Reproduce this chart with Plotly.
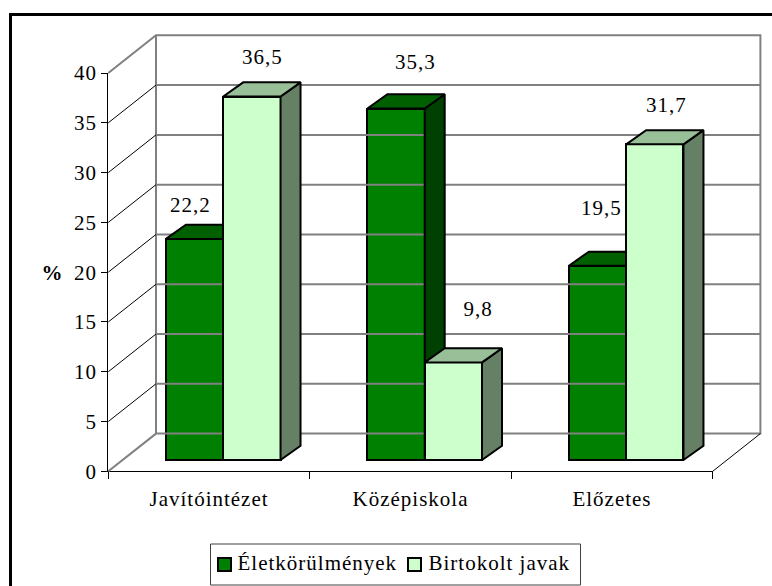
import plotly.graph_objects as go

# ---- data ----
categories = ["Javítóintézet", "Középiskola", "Előzetes"]
series_names = ["Életkörülmények", "Birtokolt javak"]
eletkorulmenyek = [22.2, 35.3, 19.5]
birtokolt_javak = [36.5, 9.8, 31.7]
y_ticks = [0, 5, 10, 15, 20, 25, 30, 35, 40]

# ---- geometry (pixels) ----
W, H = 772, 586
PX_X0, PX_X3 = 108.3, 712.7      # front plane x=0 .. x=3
PX_Y0, PX_Y40 = 471.3, 73.0      # front plane y=0 .. y=40
PER_CAT = (PX_X3 - PX_X0) / 3
PER_UNIT = (PX_Y0 - PX_Y40) / 40
WALL_DX = 47.7 / PER_CAT
WALL_DY = 37.7 / PER_UNIT
BAR_DX = 20.0 / PER_CAT
BAR_DY = 14.2 / PER_UNIT
BAR_W = 57.3 / PER_CAT
BAR_SHIFT_X = 14.2 / PER_CAT
BAR_BASE = (PX_Y0 - 460.0) / PER_UNIT
LABEL_SHIFT_A = [(-4, 34), (19, 47), (4, 58)]
LABEL_SHIFT_B = [(11, 40), (25, 53), (12, 39)]
FONT = "Liberation Serif"
FS = 21
GREEN = "#008000"
LIGHT = "#CCFFCC"

x_full = [-PX_X0 / PER_CAT, (W - PX_X0) / PER_CAT]
y_full = [(PX_Y0 - H) / PER_UNIT, PX_Y0 / PER_UNIT]

fig = go.Figure()

# front axes subplot
fig.add_trace(go.Scatter(x=[0.5, 1.5, 2.5], y=[None] * 3, mode="lines",
                         showlegend=False, hoverinfo="skip"))

# walls
GRAY = "#808080"
gx, gy = [], []
for t in y_ticks[1:-1]:
    gx += [WALL_DX, 3 + WALL_DX, None]
    gy += [t + WALL_DY, t + WALL_DY, None]
fig.add_trace(go.Scatter(
    x=gx, y=gy, mode="lines", line=dict(color=GRAY, width=2),
    showlegend=False, hoverinfo="skip", xaxis="x2", yaxis="y2"))
top, bot = y_ticks[-1], y_ticks[0]
fig.add_trace(go.Scatter(
    x=[0, WALL_DX, 3 + WALL_DX, 3 + WALL_DX, WALL_DX, WALL_DX, None, WALL_DX, 0],
    y=[top, top + WALL_DY, top + WALL_DY, bot + WALL_DY, bot + WALL_DY, top + WALL_DY, None, bot + WALL_DY, bot],
    mode="lines", line=dict(color=GRAY, width=2),
    showlegend=False, hoverinfo="skip", xaxis="x2", yaxis="y2"))
dx, dy = [], []
for t in y_ticks[1:-1]:
    dx += [0, WALL_DX, None]
    dy += [t, t + WALL_DY, None]
dx += [3, 3 + WALL_DX, None]
dy += [bot, bot + WALL_DY, None]
fig.add_trace(go.Scatter(
    x=dx, y=dy, mode="lines", line=dict(color="#000000", width=1),
    showlegend=False, hoverinfo="skip", xaxis="x2", yaxis="y2"))


def add_series(name, values, offset, front, topc, side, xa, ya, shifts):
    centers = [i + 0.5 + BAR_SHIFT_X + offset * BAR_W for i in range(len(values))]
    fig.add_trace(go.Bar(
        name=name, x=centers, y=values, base=[BAR_BASE] * len(values), width=BAR_W,
        marker=dict(color=front, line=dict(color="#000000", width=2)),
        xaxis=xa, yaxis=ya, hoverinfo="skip", showlegend=False))
    sx, sy, tx, ty = [], [], [], []
    for c, v in zip(centers, values):
        x0, x1 = c - BAR_W / 2, c + BAR_W / 2
        yt = v + BAR_BASE
        sx += [x1, x1, x1 + BAR_DX, x1 + BAR_DX, x1, None]
        sy += [BAR_BASE, yt, yt + BAR_DY, BAR_BASE + BAR_DY, BAR_BASE, None]
        tx += [x0, x1, x1 + BAR_DX, x0 + BAR_DX, x0, None]
        ty += [yt, yt, yt + BAR_DY, yt + BAR_DY, yt, None]
    for px, py, col in ((sx, sy, side), (tx, ty, topc)):
        fig.add_trace(go.Scatter(
            x=px, y=py, mode="lines", fill="toself", fillcolor=col,
            line=dict(color="#000000", width=2), showlegend=False,
            hoverinfo="skip", xaxis=xa, yaxis=ya))
    for c, v, (sxp, syp) in zip(centers, values, shifts):
        fig.add_annotation(
            x=c, y=v + BAR_BASE, xref=xa, yref=ya, xshift=sxp, yshift=syp,
            text=f"{v:.1f}".replace(".", ","), showarrow=False,
            font=dict(family=FONT, size=FS, color="#000000"),
            xanchor="center", yanchor="middle")


add_series(series_names[0], eletkorulmenyek, -0.5, GREEN, "#006000", "#004000",
           "x2", "y2", LABEL_SHIFT_A)
add_series(series_names[1], birtokolt_javak, 0.5, LIGHT, "#99BF99", "#668066",
           "x3", "y3", LABEL_SHIFT_B)


def rect(x0, x1, y0, y1, fill, line_color, width):
    return dict(type="rect", xref="paper", yref="paper",
                x0=x0 / W, x1=x1 / W, y0=1 - y1 / H, y1=1 - y0 / H,
                fillcolor=fill, line=dict(color=line_color, width=width))


def legend_text(cx, cy, text):
    return dict(x=cx / W, y=1 - cy / H, xref="paper", yref="paper", text=text, showarrow=False,
                font=dict(family=FONT, size=FS, color="#000000"),
                xanchor="center", yanchor="middle")


hidden = dict(visible=False, domain=[0, 1], fixedrange=True)
fig.update_layout(
    width=W, height=H, margin=dict(l=0, r=0, t=0, b=0, pad=0, autoexpand=False),
    paper_bgcolor="#FFFFFF", plot_bgcolor="rgba(0,0,0,0)",
    barmode="overlay", bargap=0, showlegend=False,
    font=dict(family=FONT, size=FS, color="#000000"),
    xaxis=dict(
        domain=[PX_X0 / W, PX_X3 / W], range=[0, 3], anchor="y",
        tickmode="array", tickvals=[0.5, 1.5, 2.5], ticktext=categories,
        ticks="", showline=True, linecolor="#000000", linewidth=1, showgrid=False,
        zeroline=False, ticklabelstandoff=8,
        tickfont=dict(family=FONT, size=FS, color="#000000"),
        minor=dict(tickmode="array", tickvals=[0, 1, 2, 3], ticks="outside",
                   ticklen=7, tickwidth=1, tickcolor="#000000", showgrid=False)),
    yaxis=dict(
        domain=[1 - PX_Y0 / H, 1 - PX_Y40 / H], range=[0, 40], anchor="x",
        tickmode="array", tickvals=y_ticks, ticks="outside", ticklen=6, tickwidth=1,
        tickcolor="#000000", showline=True, linecolor="#000000", linewidth=1,
        showgrid=False, zeroline=False,
        tickfont=dict(family=FONT, size=FS, color="#000000")),
    xaxis2=dict(range=x_full, anchor="y2", **hidden),
    yaxis2=dict(range=y_full, anchor="x2", **hidden),
    xaxis3=dict(range=x_full, anchor="y3", **hidden),
    yaxis3=dict(range=y_full, anchor="x3", **hidden),
    shapes=[
        dict(type="line", xref="paper", yref="paper", x0=11 / W, x1=1, y0=1 - 14.5 / H, y1=1 - 14.5 / H,
             line=dict(color="#000000", width=3)),
        dict(type="line", xref="paper", yref="paper", x0=10.5 / W, x1=10.5 / W, y0=0, y1=1 - 13 / H,
             line=dict(color="#000000", width=3)),
        rect(210.5, 580.5, 544, 585, "#FFFFFF", "#404040", 1),
        rect(218, 231, 558, 571, GREEN, "#000000", 2),
        rect(408, 421, 558, 571, LIGHT, "#000000", 2),
    ],
    annotations=list(fig.layout.annotations) + [
        dict(x=52 / W, y=1 - 273 / H, xref="paper", yref="paper", text="<b>%</b>", showarrow=False,
             font=dict(family=FONT, size=21, color="#000000"), xanchor="center", yanchor="middle"),
        legend_text(317.5, 563, series_names[0]),
        legend_text(499, 563, series_names[1]),
    ],
)

fig.write_html(
    "out.html",
    config={"displayModeBar": False},
    post_script="document.body.style.margin='0';"
                "document.querySelectorAll('svg text').forEach(function(t){t.style.letterSpacing='1px';});",
)
